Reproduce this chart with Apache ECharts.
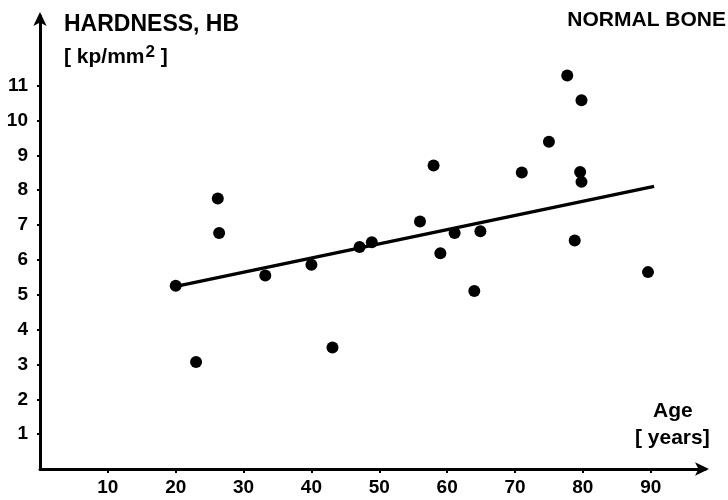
<!DOCTYPE html>
<html>
<head>
<meta charset="utf-8">
<script src="https://cdn.jsdelivr.net/npm/echarts@6/dist/echarts.min.js"></script>
<style>html,body{margin:0;padding:0;background:#fff;}#c{width:728px;height:500px;}</style>
</head>
<body>
<div id="c"></div>
<script>
// Measured points: [age (years), hardness HB (kp/mm^2)]
const ages = [20, 23, 26.2, 26.4, 33.2, 40, 43.1, 47.1, 48.9, 56, 58, 59, 61.1, 64, 64.9, 71, 75, 77.7, 78.8, 79.6, 79.8, 79.8, 89.6];
const hardness = [5.26, 3.07, 7.76, 6.77, 5.55, 5.86, 3.49, 6.37, 6.51, 7.10, 8.71, 6.19, 6.77, 5.11, 6.82, 8.51, 9.39, 11.29, 6.56, 8.52, 8.24, 10.58, 5.65];
// Regression line end points
const fitAges = [19.5, 90.5];
const fitHardness = [5.22, 8.11];
// Tick labels
const xTicks = [10, 20, 30, 40, 50, 60, 70, 80, 90];
const yTicks = [1, 2, 3, 4, 5, 6, 7, 8, 9, 10, 11];

const points = ages.map((a, i) => [a, hardness[i]]);
const fit = fitAges.map((a, i) => [a, fitHardness[i]]);

const font = '"Liberation Sans", Arial, sans-serif';
const chart = echarts.init(document.getElementById('c'));
chart.setOption({
  animation: false,
  backgroundColor: '#fff',
  grid: { left: 40, right: 23, top: 16, bottom: 31 },
  xAxis: {
    type: 'value', min: 0, max: 98, interval: 10,
    splitLine: { show: false },
    axisLine: { lineStyle: { color: '#000', width: 3 }, symbol: ['none', 'arrow'], symbolSize: [10, 14], symbolOffset: [0, 4] },
    axisTick: { show: true, length: 4, inside: false, lineStyle: { color: '#000', width: 2 }, customValues: xTicks },
    axisLabel: { customValues: xTicks, color: '#000', fontFamily: font, fontWeight: 'bold', fontSize: 19, margin: 9 }
  },
  yAxis: {
    type: 'value', min: 0, max: 13, interval: 1,
    splitLine: { show: false },
    axisLine: { lineStyle: { color: '#000', width: 3 }, symbol: ['none', 'arrow'], symbolSize: [10, 14], symbolOffset: [0, 4] },
    axisTick: { show: true, length: 3, lineStyle: { color: '#000', width: 2 }, customValues: yTicks },
    axisLabel: { customValues: yTicks, color: '#000', fontFamily: font, fontWeight: 'bold', fontSize: 19, margin: 12 }
  },
  series: [
    {
      type: 'line', data: fit, symbol: 'none',
      lineStyle: { color: '#000', width: 3.5 }, z: 2
    },
    {
      type: 'scatter', data: points, symbol: 'circle', symbolSize: 12,
      itemStyle: { color: '#000', opacity: 1 }, z: 3
    }
  ],
  graphic: [
    { type: 'text', left: 64, top: 13, style: { text: 'HARDNESS, HB', fill: '#000', font: 'bold 23px ' + font } },
    { type: 'text', left: 64, top: 44, style: {
        text: '{a|[ kp/mm}{s|2}{a| ]}', fill: '#000',
        rich: {
          a: { fontFamily: font, fontWeight: 'bold', fontSize: 21, lineHeight: 24, verticalAlign: 'bottom' },
          s: { fontFamily: font, fontWeight: 'bold', fontSize: 17, lineHeight: 24, verticalAlign: 'top', padding: [0, 0, 8, 1] }
        } } },
    { type: 'text', right: 2, top: 10, style: { text: 'NORMAL BONE', fill: '#000', font: 'bold 21px ' + font } },
    { type: 'text', left: 653, top: 401, style: { text: 'Age', fill: '#000', font: 'bold 21px ' + font } },
    { type: 'text', left: 635, top: 428, style: { text: '[ years]', fill: '#000', font: 'bold 21px ' + font } }
  ]
});
</script>
</body>
</html>
